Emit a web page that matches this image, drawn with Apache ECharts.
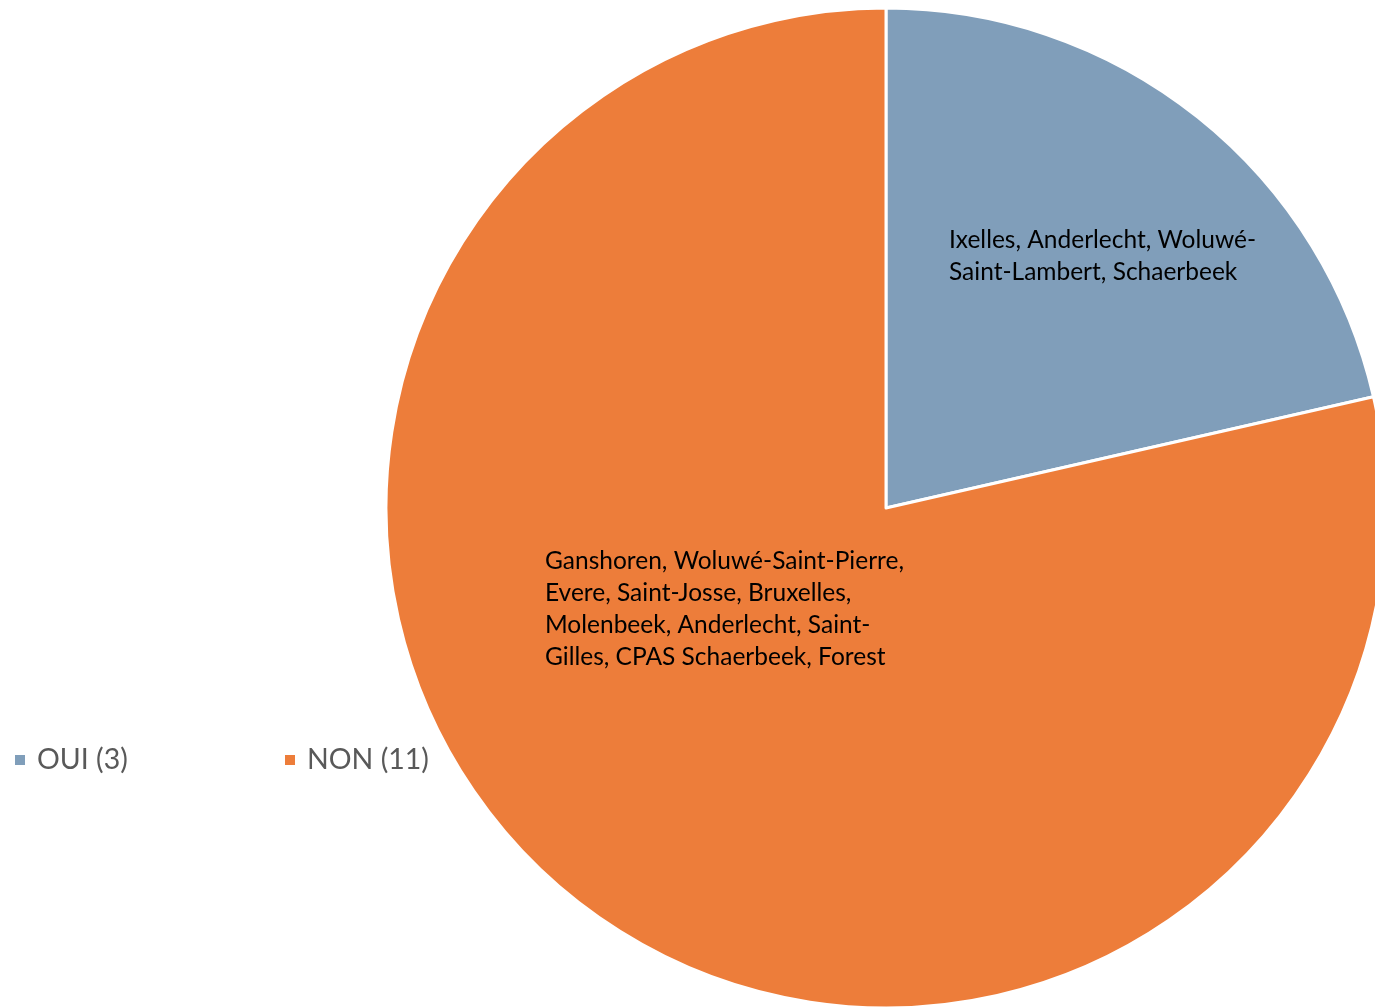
<!DOCTYPE html>
<html>
<head>
<meta charset="utf-8">
<script src="https://cdn.jsdelivr.net/npm/echarts@6/dist/echarts.min.js"></script>
<style>
html,body{margin:0;padding:0;background:#fff;}
#chart{width:1375px;height:1007px;}
</style>
</head>
<body>
<div id="chart"></div>
<script>
const categories = ['OUI', 'NON'];
const values = [3, 11];
const sliceLabels = [
  'Ixelles, Anderlecht, Woluwé-\nSaint-Lambert, Schaerbeek',
  'Ganshoren, Woluwé-Saint-Pierre,\nEvere, Saint-Josse, Bruxelles,\nMolenbeek, Anderlecht, Saint-\nGilles, CPAS Schaerbeek, Forest'
];
const colors = ['#809EBA', '#ED7D3A'];
const labelPos = [[949, 256], [545, 609]];
const legendLeft = [15, 285];

const chart = echarts.init(document.getElementById('chart'));
const legendBase = {
  top: 745,
  padding: 0,
  itemWidth: 10,
  itemHeight: 10,
  itemGap: 10,
  icon: 'rect',
  itemStyle: { borderWidth: 0 },
  textStyle: { fontFamily: 'Lato', fontSize: 28.5, lineHeight: 30, color: '#595959', padding: [0, 0, 0, 7] },
  formatter: function (name) {
    const i = categories.indexOf(name);
    return name + ' (' + values[i] + ')';
  }
};
chart.setOption({
  animation: false,
  legend: categories.map((c, i) => Object.assign({}, legendBase, { left: legendLeft[i], data: [c] })),
  series: [{
    type: 'pie',
    center: [886, 508],
    radius: 500,
    startAngle: 90,
    clockwise: true,
    itemStyle: { borderColor: '#fff', borderWidth: 3 },
    emphasis: { disabled: true },
    label: {
      show: true,
      position: 'inside',
      fontFamily: 'Lato',
      fontSize: 24.5,
      lineHeight: 32,
      color: '#000',
      align: 'left',
      verticalAlign: 'middle',
      formatter: function (p) { return sliceLabels[p.dataIndex]; }
    },
    labelLayout: function (p) {
      const pos = labelPos[p.dataIndex];
      return { x: pos[0], y: pos[1], align: 'left', verticalAlign: 'middle' };
    },
    data: categories.map((c, i) => ({ name: c, value: values[i], itemStyle: { color: colors[i] } }))
  }]
});
</script>
</body>
</html>
